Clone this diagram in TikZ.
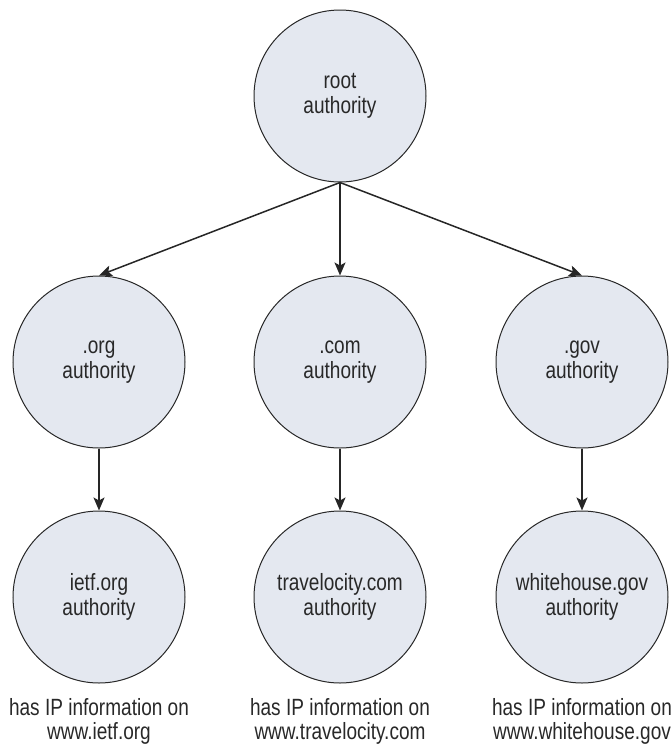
\documentclass[tikz,border=0pt]{standalone}
\usepackage{fontspec}
\setmainfont{Liberation Sans}[FakeStretch=0.81]
\usetikzlibrary{arrows.meta}
\definecolor{nodefill}{RGB}{228,232,240}
\definecolor{inkgray}{RGB}{40,40,40}
\begin{document}
\begin{tikzpicture}[x=1pt,y=-1pt,
  authority/.style={circle,draw=inkgray,line width=1pt,fill=nodefill,
    minimum size=172pt,inner sep=0pt,align=center,text=inkgray,
    font=\fontsize{23.5}{25}\selectfont},
  caption/.style={align=center,text=inkgray,inner sep=0pt,
    font=\fontsize{23.5}{24}\selectfont},
  link/.style={draw=black!85,line width=1.5pt,
    -{Stealth[length=13pt,width=11pt,inset=3pt]}}]
\useasboundingbox (0,0) rectangle (672,745);

% tree of name-server authorities
\node[authority] (root) at (340,96) {root\\authority};
\node[authority] (org)  at (99,362)  {.org\\authority};
\node[authority] (com)  at (340,362) {.com\\authority};
\node[authority] (gov)  at (582,362) {.gov\\authority};
\node[authority] (ietf)   at (99,597)  {ietf.org\\authority};
\node[authority] (travel) at (340,597) {travelocity.com\\authority};
\node[authority] (white)  at (582,597) {whitehouse.gov\\authority};

% what each leaf authority knows about
\node[caption] (capietf)   at (99,721)  {has IP information on\\www.ietf.org};
\node[caption] (captravel) at (340,721) {has IP information on\\www.travelocity.com};
\node[caption] (capwhite)  at (582,721) {has IP information on\\www.whitehouse.gov};

% delegation arrows
\draw[link] (root.south) -- (org.north);
\draw[link] (root.south) -- (com.north);
\draw[link] (root.south) -- (gov.north);
\draw[link] (org.south) -- (ietf.north);
\draw[link] (com.south) -- (travel.north);
\draw[link] (gov.south) -- (white.north);
\end{tikzpicture}
\end{document}
